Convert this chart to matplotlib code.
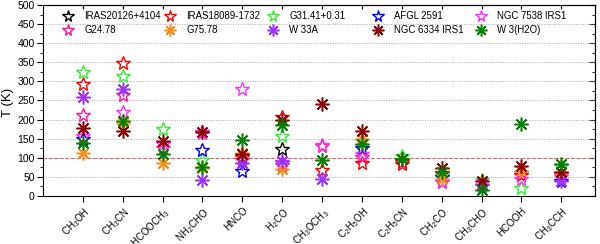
import numpy as np
import matplotlib
matplotlib.use("Agg")
import matplotlib.pyplot as plt
from matplotlib.ticker import MultipleLocator
from matplotlib.legend import Legend

plt.rcParams['font.family'] = ['Liberation Sans', 'DejaVu Sans']
plt.rcParams['mathtext.fontset'] = 'custom'
plt.rcParams['mathtext.rm'] = 'Liberation Sans'
plt.rcParams['mathtext.it'] = 'Liberation Sans:italic'

nan = np.nan
categories = [r'CH$_3$OH', r'CH$_3$CN', r'HCOOCH$_3$', r'NH$_2$CHO', 'HNCO', r'H$_2$CO',
              r'CH$_3$OCH$_3$', r'C$_2$H$_5$OH', r'C$_2$H$_5$CN', r'CH$_2$CO', r'CH$_3$CHO',
              'HCOOH', r'CH$_3$CCH']

IRAS20126 = [nan, nan, nan, nan, nan, 123, nan, nan, nan, nan, nan, nan, nan]
IRAS18089 = [292, 348, nan, nan, 103, 206, 69, 86, 84, 60, nan, 55, 58]
G31_41 = [325, 313, 174, 95, nan, 158, nan, 145, 105, 52, 42, 21, 78]
AFGL2591 = [148, nan, nan, 119, 66, nan, nan, 125, nan, 50, nan, nan, 38]
NGC7538 = [156, 220, 135, 165, 280, 90, 133, 110, nan, 40, 27, 45, 50]
G24_78 = [212, 265, 125, 168, 95, 82, 131, 103, 90, 36, 25, 55, 55]
G75_78 = [113, 190, 86, 72, 112, 71, nan, 150, nan, 45, nan, 65, 60]
W33A = [260, 280, nan, 41, 85, 92, 45, nan, nan, nan, 30, nan, 40]
NGC6334 = [178, 169, 145, 167, 110, 200, 242, 169, 97, 73, 38, 79, 63]
W3H2O = [138, 197, 110, 76, 147, 185, 95, 135, 97, 62, 15, 189, 84]

series = [
    ('IRAS20126+4104', IRAS20126, 'star', 'black'),
    ('G24.78', G24_78, 'star', '#FF1493'),
    ('IRAS18089-1732', IRAS18089, 'star', '#FF0000'),
    ('G75.78', G75_78, 'ast', '#FF8C1A'),
    ('G31.41+0.31', G31_41, 'star', '#33EE33'),
    ('W 33A', W33A, 'ast', '#9933FF'),
    ('AFGL 2591', AFGL2591, 'star', '#0000FF'),
    ('NGC 6334 IRS1', NGC6334, 'ast', '#8B0000'),
    ('NGC 7538 IRS1', NGC7538, 'star', '#FF33FF'),
    ('W 3(H2O)', W3H2O, 'ast', '#008000'),
]

fig = plt.figure(figsize=(6.0, 2.44), dpi=100)
ax = fig.add_axes([0.0717, 0.197, 0.9203, 0.7825])
x = np.arange(len(categories))

handles = {}
for kind in ('star', 'ast'):
    for name, vals, mk, col in series:
        if mk != kind:
            continue
        if mk == 'star':
            h, = ax.plot(x, vals, linestyle='none', marker='*', markersize=10,
                         markerfacecolor='none', markeredgecolor=col, markeredgewidth=1.0,
                         label=name, zorder=3)
        else:
            h, = ax.plot(x, vals, linestyle='none', marker=(8, 2, 0), markersize=10,
                         markeredgecolor=col, color=col, markeredgewidth=1.1,
                         label=name, zorder=4)
        handles[name] = h

# legend: 5 columns at fixed spacing, as in the reference
order = [s[0] for s in series]
col_px = [68, 170, 273, 378, 481]
ax_left_px, ax_w_px = 43.0, 552.0
leg_fs = 6.9
em = leg_fs * 100 / 72.0
hl = 1.2
for i in range(5):
    names = order[2 * i:2 * i + 2]
    xa = (col_px[i] - hl * em / 2 - ax_left_px) / ax_w_px
    leg = Legend(ax, [handles[n] for n in names], names, frameon=False, fontsize=leg_fs,
                 loc='upper left', bbox_to_anchor=(xa, 0.968), borderaxespad=0.0,
                 borderpad=0.0, handletextpad=1.1, handlelength=hl,
                 labelspacing=0.45, markerscale=0.85)
    ax.add_artist(leg)

ax.axhline(100, color='#E06060', linestyle=(0, (3, 2)), linewidth=0.8, zorder=2)
ax.set_ylim(0, 500)
ax.set_xlim(-1, 12.85)
ax.yaxis.set_major_locator(MultipleLocator(50))
ax.yaxis.set_minor_locator(MultipleLocator(25))
ax.grid(axis='y', which='major', linestyle=(0, (1, 1.5)), color='#AAAAAA', linewidth=0.7, zorder=1)
ax.set_xticks(x)
ax.set_xticklabels(categories, rotation=45, ha='right', rotation_mode='anchor', fontsize=7)
ax.tick_params(axis='both', which='both', direction='out')
ax.tick_params(axis='y', labelsize=7.5)
ax.tick_params(axis='x', labelsize=7, pad=3)
ax.tick_params(axis='y', which='major', length=4, pad=2)
ax.tick_params(axis='y', which='minor', length=2)
ax.tick_params(axis='x', which='major', length=4)
ax.set_ylabel('T (K)', fontsize=9.5)
ax.yaxis.set_label_coords(-0.052, 0.49)

top = ax.secondary_xaxis('top')
top.set_xticks(x)
top.tick_params(direction='in', length=3, labeltop=False)
top.set_xticklabels([])
right = ax.secondary_yaxis('right')
right.yaxis.set_major_locator(MultipleLocator(50))
right.yaxis.set_minor_locator(MultipleLocator(25))
right.tick_params(which='both', direction='in', labelright=False)
right.tick_params(which='major', length=4)
right.tick_params(which='minor', length=2)

fig.savefig('out.png', dpi=100)
